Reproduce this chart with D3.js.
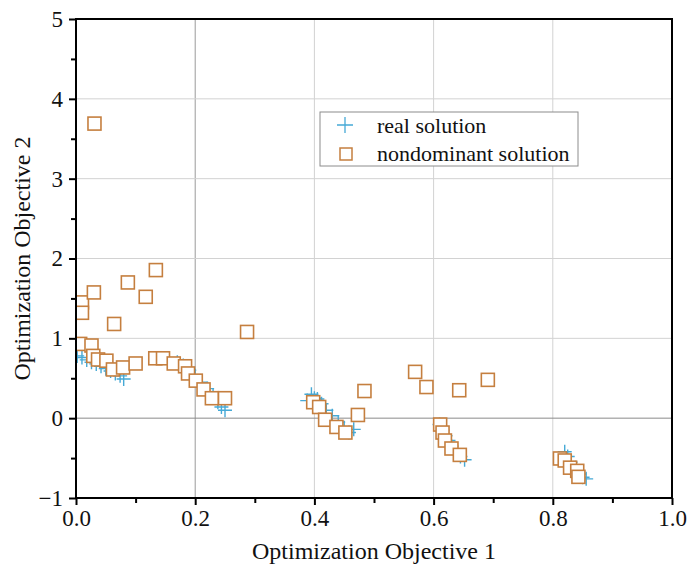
<!DOCTYPE html>
<html>
<head>
<meta charset="utf-8">
<script src="https://cdn.jsdelivr.net/npm/d3@7"></script>
<style>
    html, body { margin: 0; padding: 0; background: #fff; }
    svg text { font-family: "Liberation Serif", "Times New Roman", serif; }
</style>
</head>
<body>
<svg id="chartArea" width="687" height="565"></svg>
<script>

// real solution points (optimization objective 1, objective 2)
let realSolution_x = [0.002, 0.010, 0.018, 0.026, 0.034, 0.042, 0.050, 0.058, 0.066, 0.074, 0.080,
                      0.170, 0.180, 0.190, 0.200, 0.210, 0.220, 0.230, 0.238, 0.244, 0.250,
                      0.388, 0.395, 0.400, 0.405, 0.412, 0.420, 0.430, 0.440, 0.450, 0.458, 0.466,
                      0.610, 0.615, 0.620, 0.625, 0.630, 0.638, 0.645, 0.652,
                      0.820, 0.825, 0.830, 0.838, 0.845, 0.850, 0.856];
let realSolution_y = [0.78, 0.76, 0.73, 0.70, 0.68, 0.65, 0.62, 0.59, 0.56, 0.53, 0.49,
                      0.70, 0.66, 0.60, 0.53, 0.45, 0.37, 0.28, 0.20, 0.14, 0.10,
                      0.22, 0.30, 0.25, 0.24, 0.18, 0.10, 0.03, -0.05, -0.12, -0.18, -0.14,
                      -0.08, -0.15, -0.22, -0.28, -0.35, -0.42, -0.48, -0.52,
                      -0.42, -0.48, -0.55, -0.62, -0.70, -0.74, -0.76];

// nondominant solution points
let nondominant_x = [0.031, 0.010, 0.010, 0.030, 0.087, 0.134, 0.117, 0.064, 0.287,
                     0.007, 0.026, 0.029, 0.037, 0.051, 0.062, 0.079, 0.100,
                     0.133, 0.146, 0.164, 0.183, 0.188, 0.201, 0.214, 0.228, 0.250,
                     0.398, 0.408, 0.418, 0.437, 0.452, 0.473, 0.484,
                     0.569, 0.588, 0.643, 0.691,
                     0.611, 0.615, 0.619, 0.630, 0.644,
                     0.812, 0.820, 0.829, 0.841, 0.843];
let nondominant_y = [3.69, 1.45, 1.32, 1.575, 1.70, 1.855, 1.52, 1.18, 1.08,
                     0.93, 0.91, 0.78, 0.735, 0.72, 0.61, 0.635, 0.685,
                     0.75, 0.75, 0.685, 0.65, 0.56, 0.47, 0.36, 0.25, 0.25,
                     0.20, 0.14, -0.02, -0.11, -0.18, 0.04, 0.34,
                     0.58, 0.39, 0.35, 0.48,
                     -0.08, -0.18, -0.28, -0.38, -0.46,
                     -0.505, -0.53, -0.62, -0.66, -0.735];

let xTicks = [0, 0.2, 0.4, 0.6, 0.8, 1.0];
let yTicks = [-1, 0, 1, 2, 3, 4, 5];
let legendLabels = ['real solution', 'nondominant solution'];

//#region layout

let plot_left   = 76;           // pixel position of x = 0
let plot_right  = 672;          // pixel position of x = 1
let plot_top    = 19;           // pixel position of y = 5
let plot_bottom = 498;          // pixel position of y = -1

let cross_color  = '#46a9d6';   // real solution markers
let square_color = '#c57f3f';   // nondominant solution markers
let square_size  = 13;

//#endregion

let svg = d3.select('#chartArea');

let xScale = d3.scaleLinear().domain([0, 1]).range([plot_left, plot_right]);
let yScale = d3.scaleLinear().domain([-1, 5]).range([plot_bottom, plot_top]);

/**
 *  grey grid lines behind the data
 */
function drawGrid(){
    let grid = svg.append('g');

    grid.selectAll('.vGrid')
        .data(xTicks.slice(1, -1))
        .enter().append('line')
            .attr('x1', d => xScale(d)).attr('x2', d => xScale(d))
            .attr('y1', plot_top).attr('y2', plot_bottom)
            .attr('stroke', d => d == 0.2 ? '#9a9a9a' : '#d2d2d2')
            .attr('stroke-width', 1);

    grid.selectAll('.hGrid')
        .data(yTicks.slice(1, -1))
        .enter().append('line')
            .attr('x1', plot_left).attr('x2', plot_right)
            .attr('y1', d => yScale(d)).attr('y2', d => yScale(d))
            .attr('stroke', d => d == 0 ? '#8a8a8a' : '#d2d2d2')
            .attr('stroke-width', 1);
}

/**
 *  crosses first, squares on top of them
 */
function drawPoints(){
    svg.append('clipPath').attr('id', 'plotClip')
        .append('rect')
            .attr('x', plot_left).attr('y', plot_top)
            .attr('width', plot_right - plot_left).attr('height', plot_bottom - plot_top);

    let points = svg.append('g').attr('clip-path', 'url(#plotClip)');

    points.selectAll('.realPoint')
        .data(d3.range(realSolution_x.length))
        .enter().append('path')
            .attr('transform', i => `translate(${xScale(realSolution_x[i])},${yScale(realSolution_y[i])})`)
            .attr('d', 'M-7,0H7M0,-7V7')
            .attr('stroke', cross_color)
            .attr('stroke-width', 1.4)
            .attr('fill', 'none');

    points.selectAll('.ndPoint')
        .data(d3.range(nondominant_x.length))
        .enter().append('rect')
            .attr('x', i => xScale(nondominant_x[i]) - square_size / 2)
            .attr('y', i => yScale(nondominant_y[i]) - square_size / 2)
            .attr('width', square_size).attr('height', square_size)
            .attr('fill', '#fff')
            .attr('stroke', square_color)
            .attr('stroke-width', 1.6);
}

/**
 *  frame, ticks, tick labels and titles
 */
function drawAxes(){
    let xAxis = d3.axisBottom(xScale).tickValues(xTicks).tickFormat(d3.format('.1f')).tickSize(7).tickPadding(5);
    let xMinor = d3.axisBottom(xScale).tickValues([0.1, 0.3, 0.5, 0.7, 0.9]).tickSize(5).tickFormat('');
    let yAxis = d3.axisLeft(yScale).tickValues(yTicks).tickFormat(d3.format('d')).tickSize(7).tickPadding(6);
    let yMinor = d3.axisLeft(yScale).tickValues([-0.5, 0.5, 1.5, 2.5, 3.5, 4.5]).tickSize(5).tickFormat('');

    [xAxis, xMinor].forEach(ax => {
        svg.append('g').attr('class', 'axis')
            .attr('transform', `translate(0,${plot_bottom})`)
            .call(ax);
    });
    [yAxis, yMinor].forEach(ax => {
        svg.append('g').attr('class', 'axis')
            .attr('transform', `translate(${plot_left},0)`)
            .call(ax);
    });

    svg.selectAll('.axis .domain').remove();
    svg.selectAll('.axis line').attr('stroke', '#000').attr('stroke-width', 2);
    svg.selectAll('.axis text')
        .attr('fill', '#111')
        .style('font-size', '23px');

    // box around the plot
    svg.append('rect')
        .attr('x', plot_left).attr('y', plot_top)
        .attr('width', plot_right - plot_left).attr('height', plot_bottom - plot_top)
        .attr('fill', 'none')
        .attr('stroke', '#000')
        .attr('stroke-width', 2);

    svg.append('text')
        .attr('x', (plot_left + plot_right) / 2)
        .attr('y', 559)
        .attr('text-anchor', 'middle')
        .style('font-size', '24px')
        .attr('fill', '#111')
        .text('Optimization Objective 1');

    svg.append('text')
        .attr('transform', `translate(30,${(plot_top + plot_bottom) / 2}) rotate(-90)`)
        .attr('text-anchor', 'middle')
        .style('font-size', '24px')
        .attr('fill', '#111')
        .text('Optimization Objective 2');
}

/**
 *  legend box in the upper middle
 */
function drawLegend(){
    let legend = svg.append('g').attr('transform', 'translate(320,112)');

    legend.append('rect')
        .attr('width', 258).attr('height', 54)
        .attr('fill', '#fff')
        .attr('stroke', '#8c8c8c')
        .attr('stroke-width', 1);

    legend.append('path')
        .attr('d', 'M17,13H33M25,5V21')
        .attr('stroke', cross_color)
        .attr('stroke-width', 1.3);

    legend.append('rect')
        .attr('x', 20).attr('y', 36)
        .attr('width', 12).attr('height', 12)
        .attr('fill', '#fff')
        .attr('stroke', square_color)
        .attr('stroke-width', 1.5);

    legend.selectAll('.legendText')
        .data(legendLabels)
        .enter().append('text')
            .attr('x', 57)
            .attr('y', (d, i) => 21 + i * 28)
            .style('font-size', '22px')
            .attr('fill', '#111')
            .text(d => d);
}

drawGrid();
drawPoints();
drawAxes();
drawLegend();

</script>
</body>
</html>
